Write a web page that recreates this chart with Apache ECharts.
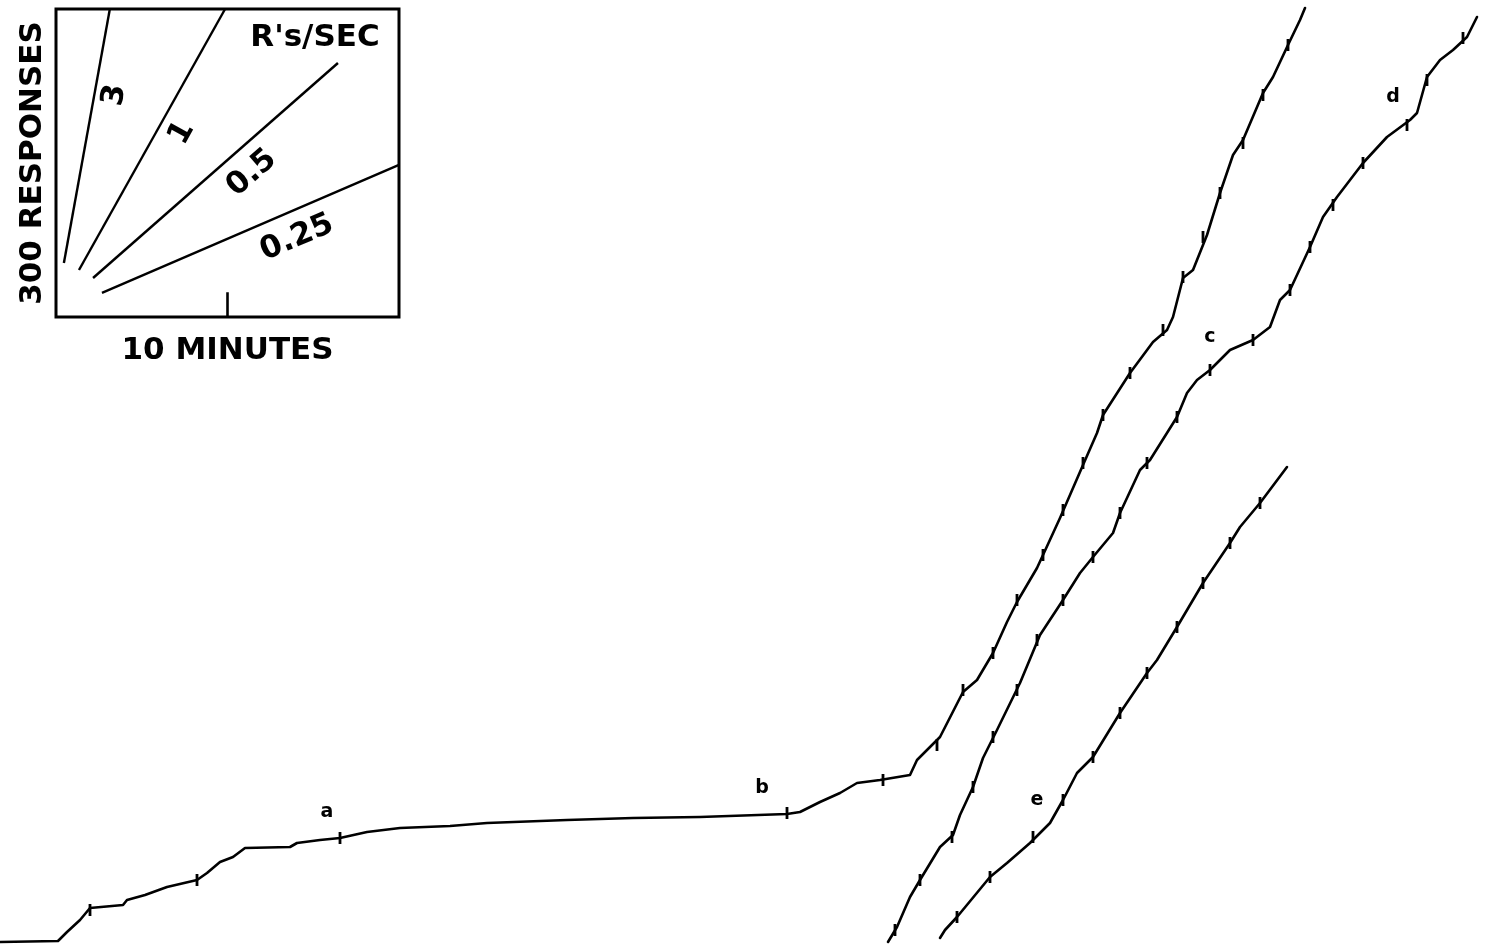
<!DOCTYPE html>
<html>
<head>
<meta charset="utf-8">
<script src="https://cdn.jsdelivr.net/npm/echarts@6/dist/echarts.min.js"></script>
<style>
html,body{margin:0;padding:0;background:#fff;}
#chart{width:1491px;height:948px;}
</style>
</head>
<body>
<div id="chart"></div>
<script>
// ---- Main cumulative record (recorder units: x = paper travel, y = pen position from top) ----
const record1 = [[0,942],[58,941],[67,932],[80,920],[90,908],[123,905],[127,900],[145,895],[167,887],[197,880],[207,873],[220,862],[233,857],[245,848],[290,847],[297,843],[320,840],[340,838],[367,832],[400,828],[450,826],[487,823],[567,820],[633,818],[700,817],[787,814],[800,812],[820,802],[840,793],[857,783],[880,780],[910,775],[917,760],[927,750],[940,737],[963,692],[977,680],[993,653],[1007,622],[1017,602],[1037,568],[1043,555],[1060,518],[1083,465],[1097,433],[1103,415],[1130,373],[1153,342],[1167,330],[1173,317],[1183,278],[1193,270],[1207,235],[1220,193],[1233,155],[1243,140],[1263,93],[1273,77],[1288,45],[1300,20],[1305,8]];
const record2 = [[888,942],[897,927],[910,897],[920,880],[940,847],[953,835],[960,815],[973,787],[983,758],[997,730],[1020,683],[1040,635],[1063,600],[1080,573],[1093,557],[1113,533],[1120,513],[1140,470],[1150,460],[1177,417],[1187,393],[1197,380],[1210,370],[1230,350],[1253,340],[1270,327],[1280,300],[1290,290],[1310,247],[1323,217],[1337,197],[1363,163],[1387,137],[1410,120],[1417,113],[1427,77],[1440,60],[1453,50],[1467,37],[1477,17]];
const record3 = [[940,938],[945,930],[957,917],[990,877],[1007,863],[1030,843],[1050,823],[1063,800],[1077,773],[1093,757],[1120,713],[1147,673],[1157,660],[1177,627],[1203,583],[1230,543],[1240,527],[1260,503],[1287,467]];
const reinforcements = [[90,910],[197,880],[340,838],[787,813],[883,780],[937,745],[963,690],[993,653],[1017,600],[1043,555],[1063,510],[1083,463],[1103,415],[1130,373],[1163,330],[1183,277],[1203,237],[1220,193],[1243,143],[1263,95],[1288,45],
  [895,930],[920,880],[952,837],[973,787],[993,737],[1017,690],[1037,640],[1063,600],[1093,557],[1120,513],[1147,463],[1177,417],[1210,370],[1253,340],[1290,290],[1310,247],[1333,205],[1363,163],[1407,125],[1427,80],[1463,38],
  [957,917],[990,877],[1033,837],[1063,800],[1093,757],[1120,713],[1147,673],[1177,627],[1203,583],[1230,543],[1260,503]];
const letterNames = ['a','b','c','d','e'];
const letterPos = [[327,812],[762,788],[1210,337],[1393,97],[1037,800]];

// ---- Inset: rate key (x in minutes, y in responses) ----
const rateNames = ['3','1','0.5','0.25'];
const rateLines = [
  [[0.23,52.6],[1.57,300]],
  [[0.67,45.8],[4.93,300]],
  [[1.08,38.0],[8.22,247.4]],
  [[1.34,23.4],[10,148.1]]
];
const rateLabelPos = [[1.72,216],[3.67,179],[5.71,140],[7.03,77]];
const rateLabelAngle = [80,61,41,23];
const keyTitle = "R's/SEC";
const keyTitlePos = [7.55,272];
const keyTick = [[5,0],[5,24]];

const FONT = 'DejaVu Sans';
const INK = '#000';
const chart = echarts.init(document.getElementById('chart'), null, {renderer:'canvas'});

const lineStyleMain = {color:INK, width:2.6, join:'round', cap:'round'};
const textLabel = (size, weight, rot) => ({show:true, position:'inside', formatter:'{b}', color:INK, opacity:1,
  fontFamily:FONT, fontSize:size, fontWeight:weight, rotate:rot||0, textBorderWidth:0});
const series = [];
[record1, record2, record3].forEach((d)=>{
  series.push({type:'line', xAxisIndex:0, yAxisIndex:0, data:d, showSymbol:false, symbol:'none',
    lineStyle:lineStyleMain, silent:true, z:3});
});
series.push({type:'scatter', xAxisIndex:0, yAxisIndex:0, data:reinforcements, symbol:'rect',
  symbolSize:[2.8,12], itemStyle:{color:INK, opacity:1}, silent:true, z:4});
series.push({type:'scatter', xAxisIndex:0, yAxisIndex:0,
  data:letterPos.map((p,i)=>({value:p, name:letterNames[i]})),
  symbolSize:1, itemStyle:{color:'rgba(0,0,0,0)', opacity:1}, silent:true,
  label:textLabel(19,'bold')});

// inset
rateLines.forEach((d,i)=>{
  series.push({type:'line', xAxisIndex:1, yAxisIndex:1, data:d, showSymbol:false, symbol:'none',
    lineStyle:{color:INK, width:2.4}, silent:true});
  series.push({type:'scatter', xAxisIndex:1, yAxisIndex:1,
    data:[{value:rateLabelPos[i], name:rateNames[i]}], symbolSize:1, itemStyle:{color:'rgba(0,0,0,0)', opacity:1}, silent:true,
    label:textLabel(31,'bold',rateLabelAngle[i])});
});
series.push({type:'scatter', xAxisIndex:1, yAxisIndex:1,
  data:[{value:keyTitlePos, name:keyTitle}], symbolSize:1, itemStyle:{color:'rgba(0,0,0,0)', opacity:1}, silent:true,
  label:textLabel(31,'bold')});
series.push({type:'line', xAxisIndex:1, yAxisIndex:1, data:keyTick, showSymbol:false, symbol:'none',
  lineStyle:{color:INK, width:2.6}, silent:true});

const hiddenAxis = {axisLine:{show:false}, axisTick:{show:false}, axisLabel:{show:false}, splitLine:{show:false}};

chart.setOption({
  animation:false,
  backgroundColor:'#fff',
  grid:[
    {left:0, top:0, width:1491, height:948},
    {left:56, top:9, width:343, height:308, show:true, borderColor:INK, borderWidth:3, backgroundColor:'rgba(0,0,0,0)'}
  ],
  xAxis:[
    {type:'value', gridIndex:0, min:0, max:1491, show:false},
    Object.assign({type:'value', gridIndex:1, min:0, max:10, name:'10 MINUTES', nameLocation:'middle', nameGap:18,
      nameTextStyle:{fontFamily:FONT, fontSize:31, fontWeight:'bold', color:INK}}, hiddenAxis)
  ],
  yAxis:[
    {type:'value', gridIndex:0, min:0, max:948, inverse:true, show:false},
    Object.assign({type:'value', gridIndex:1, min:0, max:300, name:'300 RESPONSES', nameLocation:'middle', nameGap:8, nameRotate:90,
      nameTextStyle:{fontFamily:FONT, fontSize:31, fontWeight:'bold', color:INK}}, hiddenAxis)
  ],
  series:series
});
</script>
</body>
</html>
